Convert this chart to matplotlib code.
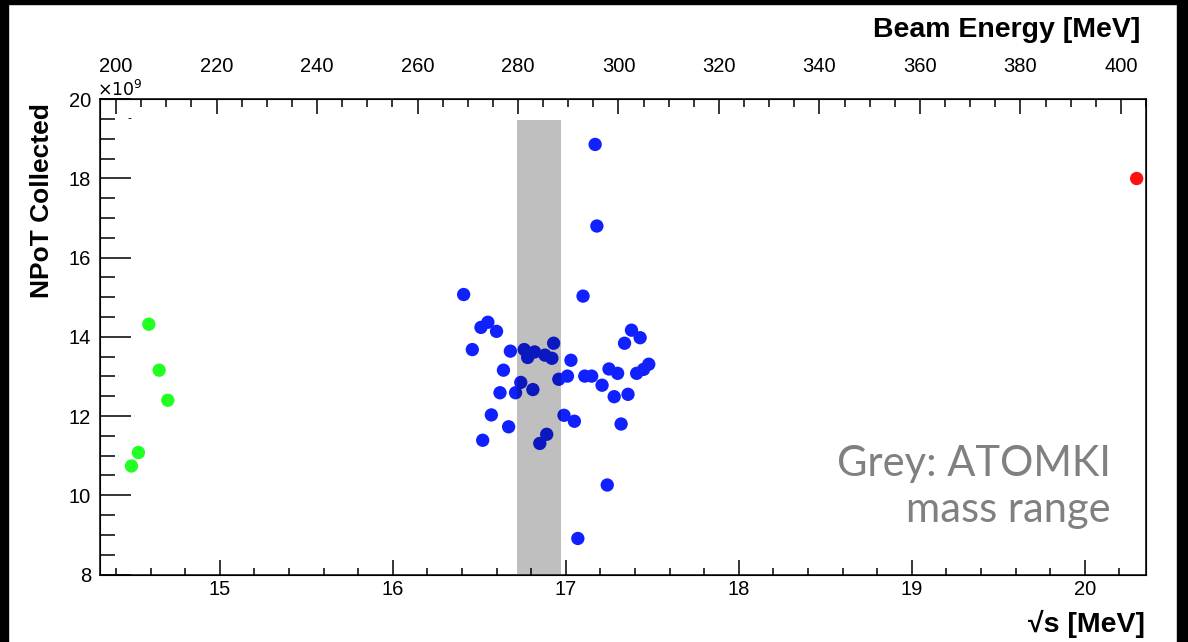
import matplotlib
matplotlib.use("Agg")
import matplotlib.pyplot as plt
from matplotlib.patches import Rectangle
from matplotlib.ticker import MultipleLocator

plt.rcParams['font.family'] = ['Liberation Sans', 'DejaVu Sans']

# NPoT collected, in units of 1e9
green_x = [14.59, 14.65, 14.70, 14.53, 14.49]
green_y = [14.32, 13.16, 12.40, 11.08, 10.74]

blue_x = [16.41, 17.10, 16.51, 16.55, 16.60, 16.46, 16.68, 16.76, 16.78, 16.82,
          16.88, 16.92, 16.93, 17.03, 16.64, 16.74, 16.81, 16.62, 16.71, 16.96,
          17.01, 17.11, 17.15, 17.21, 17.25, 17.30, 17.28, 17.36, 17.34, 17.38,
          17.43, 17.41, 17.45, 17.48, 16.57, 16.67, 16.52, 16.89, 16.85, 16.99,
          17.05, 17.32, 17.24, 17.07, 17.17, 17.18]
blue_y = [15.07, 15.03, 14.24, 14.37, 14.14, 13.68, 13.64, 13.68, 13.48, 13.62,
          13.54, 13.46, 13.84, 13.41, 13.16, 12.85, 12.67, 12.59, 12.59, 12.93,
          13.01, 13.01, 13.01, 12.78, 13.19, 13.08, 12.49, 12.55, 13.84, 14.17,
          13.98, 13.08, 13.18, 13.31, 12.03, 11.73, 11.39, 11.54, 11.31, 12.02,
          11.87, 11.80, 10.26, 8.91, 18.86, 16.80]

red_x = [20.30]
red_y = [18.00]

# ATOMKI mass range band
atomki_lo, atomki_hi, atomki_top = 16.72, 16.97, 19.48

W, H = 1188, 642
fig = plt.figure(figsize=(W / 100, H / 100), dpi=100)
ax = fig.add_axes([100 / W, 1 - 574.5 / H, 1046 / W, 475.2 / H])

ms = 92
ax.scatter(green_x, green_y, s=ms, color='#22ff22', edgecolors='none', zorder=3)
ax.scatter(blue_x, blue_y, s=ms, color='#1020ff', edgecolors='none', zorder=3)
ax.scatter(red_x, red_y, s=ms, color='#ff1010', edgecolors='none', zorder=3)

# band drawn over the points, like in the original
ax.fill_between([atomki_lo, atomki_hi], 8, atomki_top, color='black', alpha=0.25,
                linewidth=0, zorder=4)

ax.set_xlim(14.308, 20.354)
ax.set_ylim(8, 20)
ax.xaxis.set_major_locator(MultipleLocator(1))
ax.xaxis.set_minor_locator(MultipleLocator(0.2))
ax.yaxis.set_major_locator(MultipleLocator(2))
ax.yaxis.set_minor_locator(MultipleLocator(0.5))

ax.tick_params(axis='x', which='major', direction='in', length=10.6, width=1.1,
               labelsize=14.5, pad=4, top=False)
ax.tick_params(axis='x', which='minor', direction='in', length=5, width=1.1, top=False)
ax.tick_params(axis='y', which='major', direction='in', length=22.3, width=1.1,
               labelsize=14.5, pad=6.5, right=False)
ax.tick_params(axis='y', which='minor', direction='in', length=10.8, width=1.1, right=False)
for sp in ax.spines.values():
    sp.set_linewidth(1.1)

# top axis: beam energy
ax2 = ax.twiny()
ax2.set_xlim(196.8, 405.0)
ax2.xaxis.set_major_locator(MultipleLocator(20))
ax2.xaxis.set_minor_locator(MultipleLocator(5))
ax2.tick_params(axis='x', which='major', direction='in', length=10.8, width=1.1,
                labelsize=14.5, pad=17)
ax2.tick_params(axis='x', which='minor', direction='in', length=5.5, width=1.1)

# titles
fig.text(1140 / W, 1 - 36.7 / H, 'Beam Energy [MeV]', ha='right', va='baseline',
         fontsize=20.5, fontweight='bold')
fig.text(1145 / W, 1 - 632 / H, '√s [MeV]', ha='right', va='baseline',
         fontsize=20.5, fontweight='bold')
fig.text(42 / W, 1 - 103 / H, 'NPoT Collected', rotation=90, ha='center', va='top',
         fontsize=19, fontweight='bold')
fig.text(97 / W, 1 - 96 / H, r'$\times10^{9}$', ha='left', va='baseline', fontsize=12.5)
fig.text(130 / W, 1 - 122 / H, '-', ha='center', va='baseline', fontsize=9)

# annotation
fig.text(1111 / W, 1 - 476 / H, 'Grey: ATOMKI', ha='right', va='baseline',
         fontsize=30, color='#808080', family=['Lato', 'DejaVu Sans'])
fig.text(1111 / W, 1 - 522 / H, 'mass range', ha='right', va='baseline',
         fontsize=30, color='#808080', family=['Lato', 'DejaVu Sans'])

# black frame around the screenshot
for x0, y0, w, h in [(0, 1 - 4 / H, 1, 4 / H), (0, 0, 8 / W, 1), (1177 / W, 0, 11 / W, 1)]:
    fig.patches.append(Rectangle((x0, y0), w, h, transform=fig.transFigure,
                                 color='black', zorder=10))

fig.savefig('out.png', dpi=100)
